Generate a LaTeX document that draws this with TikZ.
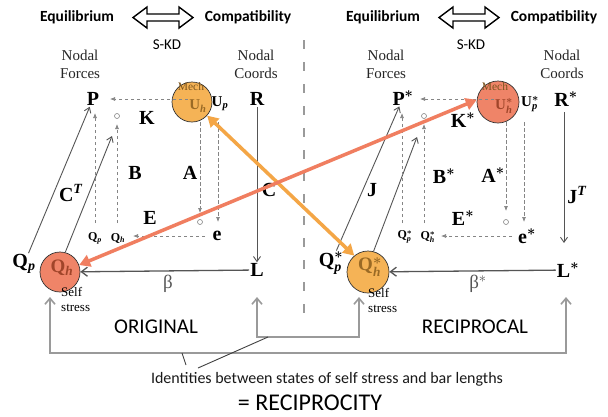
\documentclass[tikz,border=0pt]{standalone}
\usepackage{amsmath}
\usepackage{fontspec}
\setmainfont{Liberation Serif}
\setsansfont{Carlito}
\usetikzlibrary{arrows.meta}
\definecolor{orF}{HTML}{F5B356}
\definecolor{orA}{HTML}{F4A646}
\definecolor{orT}{HTML}{9A6A25}
\definecolor{rdF}{HTML}{EF8468}
\definecolor{rdA}{HTML}{F07E60}
\definecolor{rdT}{HTML}{A0452A}
\definecolor{sgray}{HTML}{555555}
\definecolor{dgray}{HTML}{858585}
\definecolor{bgray}{HTML}{9A9A9A}
\newcommand{\stt}{$^{\boldsymbol{*}}$}
\newcommand{\sbt}[1]{\textsubscript{\textit{#1}}}
\newcommand{\sst}[1]{$^{\boldsymbol{*}}_{\textit{#1}}$}
\tikzset{
  hdr/.style={font=\sffamily\bfseries\fontsize{15.5}{15.5}\selectfont, inner sep=0pt},
  skd/.style={font=\sffamily\fontsize{15}{15}\selectfont, inner sep=0pt},
  nl/.style={font=\fontsize{15}{18}\selectfont, align=center, inner sep=0pt, text=black!85},
  bigl/.style={font=\bfseries\fontsize{20}{20}\selectfont, inner sep=1pt},
  matl/.style={font=\bfseries\fontsize{20}{20}\selectfont, inner sep=0pt},
  sml/.style={font=\bfseries\fontsize{12}{12}\selectfont, inner sep=0pt},
  upl/.style={font=\bfseries\fontsize{15}{15}\selectfont, inner sep=0pt},
  inl/.style={font=\bfseries\fontsize{19}{19}\selectfont, inner sep=0pt},
  inu/.style={font=\bfseries\fontsize{15}{15}\selectfont, inner sep=0pt},
  mech/.style={font=\fontsize{11.5}{11.5}\selectfont, inner sep=0pt, text=orT!80!black},
  selfl/.style={font=\fontsize{13}{15}\selectfont, align=left, inner sep=0pt, anchor=west},
  betal/.style={font=\fontsize{19}{19}\selectfont, inner sep=0pt, text=sgray},
  circ/.style={circle, draw=black!80, line width=0.7pt, inner sep=0pt},
  ring/.style={circle, draw=dgray, line width=0.6pt, minimum size=5pt, inner sep=0pt},
  sol/.style={draw=sgray, line width=0.9pt, -{Straight Barb[length=5pt,width=7pt]}},
  bet/.style={draw=sgray, line width=1.3pt, -{Straight Barb[length=6pt,width=9pt]}},
  dsh/.style={draw=dgray, line width=0.7pt, dash pattern=on 3.5pt off 2.5pt, -{Latex[length=5pt,width=4pt]}},
  brk/.style={draw=bgray, line width=1.6pt, {Straight Barb[length=6pt,width=10pt]}-{Straight Barb[length=6pt,width=10pt]}},
  thickarr/.style={line width=3.5pt, {Triangle[length=11pt,width=12pt]}-{Triangle[length=11pt,width=12pt]}},
  ptr/.style={draw=black!75, line width=0.9pt},
  dbl/.pic={\draw[line width=1.4pt, line join=miter] (-30,0) -- (-16,-10.5) -- (-16,-3.5) -- (16,-3.5) -- (16,-10.5) -- (30,0) -- (16,10.5) -- (16,3.5) -- (-16,3.5) -- (-16,10.5) -- cycle;}
}
\begin{document}
\begin{tikzpicture}[x=1pt,y=-1pt]
\useasboundingbox[fill=white] (0,0) rectangle (608,416);

% centre divider
\draw[bgray, line width=2.5pt, dash pattern=on 9pt off 13pt] (304,40) -- (304,323);

% ---------------- LEFT (ORIGINAL) ----------------
\node[hdr] (eq1) at (77,17) {Equilibrium};
\pic at (163,17.5) {dbl};
\node[hdr] (co1) at (248,17) {Compatibility};
\node[skd] (sk1) at (167,45) {S-KD};
\node[nl] (nf1) at (80,64) {Nodal\\Forces};
\node[nl] (nc1) at (256,64) {Nodal\\Coords};
\node[bigl] (P1) at (93,99) {P};
\node[bigl] (R1) at (257,99) {R};
\node[circ, fill=orF, minimum size=40pt] (M1) at (192,102) {};
\node[mech] (mt1) at (191,87) {Mech};
\node[inu, text=orT] (uh1) at (198,106) {U\sbt{h}};
\node[upl] (Up1) at (220,104) {U\sbt{p}};
\node[matl] (K1) at (147,118) {K};
\node[ring] (o1) at (117,116) {};
\node[matl] (B1) at (135,173) {B};
\node[matl] (A1) at (190,173) {A};
\node[matl] (E1) at (150,218) {E};
\node[ring] (o2) at (200,222) {};
\node[matl] (e1) at (217,236) {e};
\node[sml] (qp1) at (95,238) {Q\sbt{p}};
\node[sml] (qh1) at (118,238) {Q\sbt{h}};
\node[matl] (C1) at (269,190) {C};
\node[matl] (CT1) at (71,193) {C\textsuperscript{\textit{T}}};
\node[bigl] (Qp1) at (24,264) {Q\sbt{p}};
\node[circ, fill=rdF, minimum size=40pt] (H1) at (60,272) {};
\node[inl, text=rdT] (qht1) at (62,268) {Q\sbt{h}};
\node[selfl] (sf1) at (61,299.5) {Self\\stress};
\node[bigl] (L1) at (257,270) {L};
\node[betal] (bt1) at (168,284) {β};

\coordinate (t1) at (112,136);
\draw[sol] (Qp1) -- (P1);
\draw[sol] (H1.75) -- (t1);
\draw[sol] (R1) -- (L1);
\draw[bet] (L1) -- (H1);

\coordinate (a1) at (188,99);  \coordinate (a2) at (110,99);
\coordinate (b1) at (95,223);  \coordinate (b2) at (95,113);
\coordinate (c1) at (117,223); \coordinate (c2) at (117,124);
\coordinate (d1) at (200,122); \coordinate (d2) at (200,213);
\coordinate (f1) at (218,122); \coordinate (f2) at (218,222);
\coordinate (g1) at (205,236); \coordinate (g2) at (133,236);
\draw[dsh] (a1) -- (a2);
\draw[dsh] (b1) -- (b2);
\draw[dsh] (c1) -- (c2);
\draw[dsh] (d1) -- (d2);
\draw[dsh] (f1) -- (f2);
\draw[dsh] (g1) -- (g2);

% ---------------- RIGHT (RECIPROCAL) ----------------
\node[hdr] (eq2) at (383,17) {Equilibrium};
\pic at (469,17.5) {dbl};
\node[hdr] (co2) at (554,17) {Compatibility};
\node[skd] (sk2) at (471,45) {S-KD};
\node[nl] (nf2) at (386,64) {Nodal\\Forces};
\node[nl] (nc2) at (562,64) {Nodal\\Coords};
\node[bigl] (P2) at (403,98) {P\stt};
\node[bigl] (R2) at (566,99) {R\stt};
\node[circ, fill=rdF, minimum size=42pt] (M2) at (498,102) {};
\node[mech] (mt2) at (495,87) {Mech};
\node[inu, text=rdT] (uh2) at (504,106) {U\sst{h}};
\node[upl] (Up2) at (530,104) {U\sst{p}};
\node[matl] (K2) at (463,120) {K\stt};
\node[ring] (o3) at (424,116) {};
\node[matl] (B2) at (444,176) {B\stt};
\node[matl] (A2) at (493,175) {A\stt};
\node[matl] (E2) at (463,218) {E\stt};
\node[ring] (o4) at (506,222) {};
\node[matl] (e2) at (527,236) {e\stt};
\node[sml] (qp2) at (405,237) {Q\sst{p}};
\node[sml] (qh2) at (428,237) {Q\sst{h}};
\node[matl] (J2) at (372,190) {J};
\node[matl] (JT2) at (577,195) {J\textsuperscript{\textit{T}}};
\node[bigl] (Qp2) at (331,263) {Q\sst{p}};
\node[circ, fill=orF, minimum size=42pt] (H2) at (368,272) {};
\node[inl, text=orT] (qht2) at (370,267) {Q\sst{h}};
\node[selfl] (sf2) at (368,300) {Self\\stress};
\node[bigl] (L2) at (568,270) {L\stt};
\node[betal] (bt2) at (478,284) {β$^{*}$};

\coordinate (t2) at (417,137);
\coordinate (r2a) at (564,112); \coordinate (r2b) at (564,243);
\draw[sol] (Qp2) -- (P2);
\draw[sol] (H2.75) -- (t2);
\draw[sol] (r2a) -- (r2b);
\draw[bet] (L2) -- (H2);

\coordinate (a3) at (494,99);  \coordinate (a4) at (420,99);
\coordinate (b3) at (402,223); \coordinate (b4) at (402,113);
\coordinate (c3) at (424,223); \coordinate (c4) at (424,124);
\coordinate (d3) at (506,122); \coordinate (d4) at (506,211);
\coordinate (f3) at (524,122); \coordinate (f4) at (524,222);
\coordinate (g3) at (512,236); \coordinate (g4) at (441,236);
\draw[dsh] (a3) -- (a4);
\draw[dsh] (b3) -- (b4);
\draw[dsh] (c3) -- (c4);
\draw[dsh] (d3) -- (d4);
\draw[dsh] (f3) -- (f4);
\draw[dsh] (g3) -- (g4);

% ---------------- cross arrows ----------------
\draw[thickarr, draw=orA, fill=orA] (M1.-42) -- (H2.130);
\draw[thickarr, draw=rdA, fill=rdA] (H1.20) -- (M2.174);

% ---------------- bottom ----------------
\coordinate (k1) at (50,297);  \coordinate (k2) at (50,353);
\coordinate (k3) at (566,353); \coordinate (k4) at (566,297);
\draw[brk] (k1) -- (k2) -- (k3) -- (k4);
\coordinate (m1) at (257,297); \coordinate (m2) at (257,337);
\coordinate (m3) at (359,337); \coordinate (m4) at (359,297);
\draw[brk] (m1) -- (m2) -- (m3) -- (m4);

\node[font=\sffamily\fontsize{21}{21}\selectfont, inner sep=0pt] (orig) at (156,327) {ORIGINAL};
\node[font=\sffamily\fontsize{21}{21}\selectfont, inner sep=0pt] (recp) at (475,327) {RECIPROCAL};
\node[font=\sffamily\fontsize{16}{16}\selectfont, inner sep=0pt, text=black!90] (ident) at (327,379) {Identities between states of self stress and bar lengths};
\node[font=\sffamily\fontsize{24}{24}\selectfont, inner sep=0pt] (recy) at (310,403) {= RECIPROCITY};

\coordinate (p1) at (268,337); \coordinate (p2) at (198,368);
\coordinate (p3) at (182,353); \coordinate (p4) at (186,365);
\draw[ptr] (p1) -- (p2);
\draw[ptr] (p3) -- (p4);
\end{tikzpicture}
\end{document}
